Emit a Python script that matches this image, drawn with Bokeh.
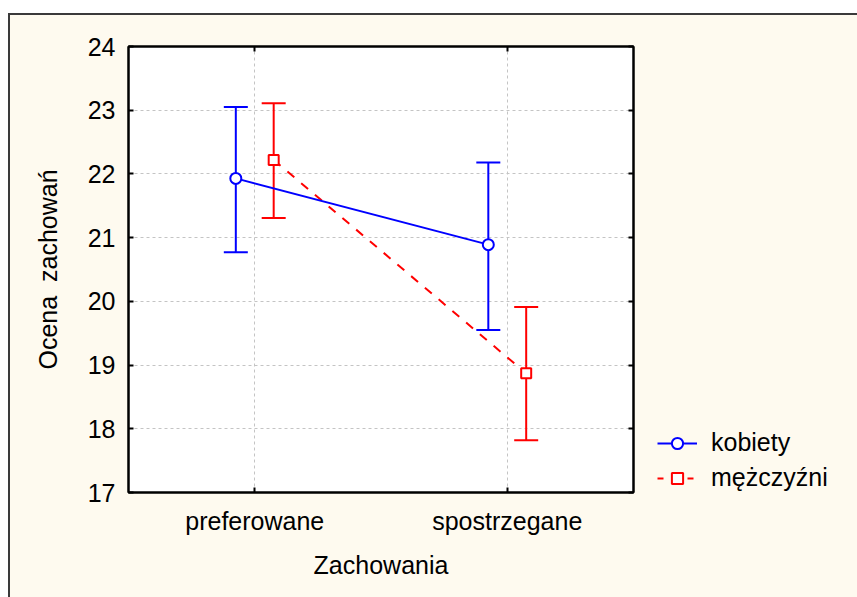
from bokeh.plotting import figure
from bokeh.models import FixedTicker, LinearAxis, Legend, LegendItem, ColumnDataSource
from bokeh.layouts import row
from bokeh.embed import file_html
from bokeh.resources import INLINE

categories = ["preferowane", "spostrzegane"]
cat_pos = [1, 2]
kob_mean = [21.93, 20.89]
kob_upper = [23.05, 22.18]
kob_lower = [20.77, 19.55]
mez_mean = [22.22, 18.87]
mez_upper = [23.11, 19.91]
mez_lower = [21.31, 17.82]
y_ticks = [17, 18, 19, 20, 21, 22, 23, 24]
series_names = ["kobiety", "mężczyźni"]

FONT = "Liberation Sans"
FS = "25px"
CREAM = "#FEFAEF"
BLUE = "#0000FF"
RED = "#FF0000"
dodge = 0.075

kob = ColumnDataSource(dict(x=[c - dodge for c in cat_pos], m=kob_mean, u=kob_upper, l=kob_lower))
mez = ColumnDataSource(dict(x=[c + dodge for c in cat_pos], m=mez_mean, u=mez_upper, l=mez_lower))

p = figure(frame_width=505, frame_height=446, x_range=(0.5, 2.5), y_range=(17, 24),
           output_backend="svg", toolbar_location=None,
           min_border_left=118, min_border_top=31, min_border_right=8, min_border_bottom=105)
p.background_fill_color = "white"
p.border_fill_color = CREAM
p.outline_line_color = "black"
p.outline_line_width = 2

for ax in (p.xaxis[0], p.yaxis[0]):
    ax.major_label_text_font = FONT
    ax.major_label_text_font_size = FS
    ax.major_label_text_color = "black"
    ax.axis_label_text_font = FONT
    ax.axis_label_text_font_size = FS
    ax.axis_label_text_font_style = "normal"
    ax.axis_label_text_color = "black"
    ax.axis_line_color = "black"
    ax.axis_line_width = 2
    ax.major_tick_in = 5
    ax.major_tick_out = 0
    ax.major_tick_line_color = "black"
    ax.major_tick_line_width = 2
    ax.minor_tick_line_color = None

p.xaxis.ticker = FixedTicker(ticks=cat_pos)
p.xaxis.major_label_overrides = {c: n for c, n in zip(cat_pos, categories)}
p.yaxis.ticker = FixedTicker(ticks=y_ticks)
p.xaxis.axis_label = "Zachowania"
p.yaxis.axis_label = "Ocena\u00a0 zachowań"
p.xaxis.major_label_standoff = 14
p.xaxis.axis_label_standoff = 13
p.yaxis.major_label_standoff = 13
p.yaxis.axis_label_standoff = 23

top = LinearAxis(ticker=FixedTicker(ticks=cat_pos),
                 major_label_overrides={c: "" for c in cat_pos},
                 major_tick_in=5, major_tick_out=0, major_tick_line_width=2,
                 axis_line_width=2, minor_tick_line_color=None, major_label_standoff=0)
right = LinearAxis(ticker=FixedTicker(ticks=y_ticks),
                   major_label_overrides={t: "" for t in y_ticks},
                   major_tick_in=5, major_tick_out=0, major_tick_line_width=2,
                   axis_line_width=2, minor_tick_line_color=None, major_label_standoff=0)
p.add_layout(top, "above")
p.add_layout(right, "right")

p.xgrid.ticker = FixedTicker(ticks=cat_pos)
p.ygrid.ticker = FixedTicker(ticks=y_ticks)
p.grid.grid_line_color = "#C4C4C4"
p.grid.grid_line_dash = "3 3"
p.grid.grid_line_width = 1

# whiskers
p.segment(x0="x", y0="l", x1="x", y1="u", source=kob, line_color=BLUE, line_width=2)
p.scatter(x="x", y="u", source=kob, marker="dash", size=24, line_color=BLUE, line_width=2)
p.scatter(x="x", y="l", source=kob, marker="dash", size=24, line_color=BLUE, line_width=2)
p.segment(x0="x", y0="l", x1="x", y1="u", source=mez, line_color=RED, line_width=2)
p.scatter(x="x", y="u", source=mez, marker="dash", size=24, line_color=RED, line_width=2)
p.scatter(x="x", y="l", source=mez, marker="dash", size=24, line_color=RED, line_width=2)

p.line(x="x", y="m", source=mez, line_color=RED, line_width=2, line_dash="9 9")
p.line(x="x", y="m", source=kob, line_color=BLUE, line_width=2)
p.scatter(x="x", y="m", source=kob, marker="circle", size=11, fill_color="white",
          line_color=BLUE, line_width=2)
p.scatter(x="x", y="m", source=mez, marker="square", size=10, fill_color="white",
          line_color=RED, line_width=2)

# legend panel (separate figure so the legend is not clipped by the main frame);
# its renderers use the same data, which lies outside this panel's ranges
q = figure(width=216, height=582, x_range=(0, 1), y_range=(0, 1),
           output_backend="svg", toolbar_location=None,
           x_axis_location=None, y_axis_location=None,
           min_border=0, min_border_left=0, min_border_right=0, min_border_top=0, min_border_bottom=0)
q.background_fill_color = CREAM
q.border_fill_color = CREAM
q.outline_line_color = None
q.grid.visible = False
lb = q.line(x="x", y="m", source=kob, line_color=BLUE, line_width=2)
sb = q.scatter(x="x", y="m", source=kob, marker="circle", size=11, fill_color="white",
               line_color=BLUE, line_width=2)
lr = q.line(x="x", y="m", source=mez, line_color=RED, line_width=2, line_dash="6 9")
sr = q.scatter(x="x", y="m", source=mez, marker="square", size=10, fill_color="white",
               line_color=RED, line_width=2)
legend = Legend(items=[LegendItem(label=series_names[0], renderers=[lb, sb]),
                       LegendItem(label=series_names[1], renderers=[lr, sr])],
                location=(16, 0), padding=0, margin=0, spacing=6,
                glyph_width=40, glyph_height=28, label_height=28, label_standoff=14,
                background_fill_alpha=0, border_line_alpha=0,
                label_text_font=FONT, label_text_font_size=FS, label_text_color="black")
q.add_layout(legend)

layout = row(p, q, spacing=0)
layout.styles = {"border-top": "2px solid #3a3a3a", "border-left": "2px solid #3a3a3a",
                 "margin-top": "13px", "margin-left": "8px", "background-color": CREAM}

open("out.html", "w").write(file_html(layout, INLINE))
